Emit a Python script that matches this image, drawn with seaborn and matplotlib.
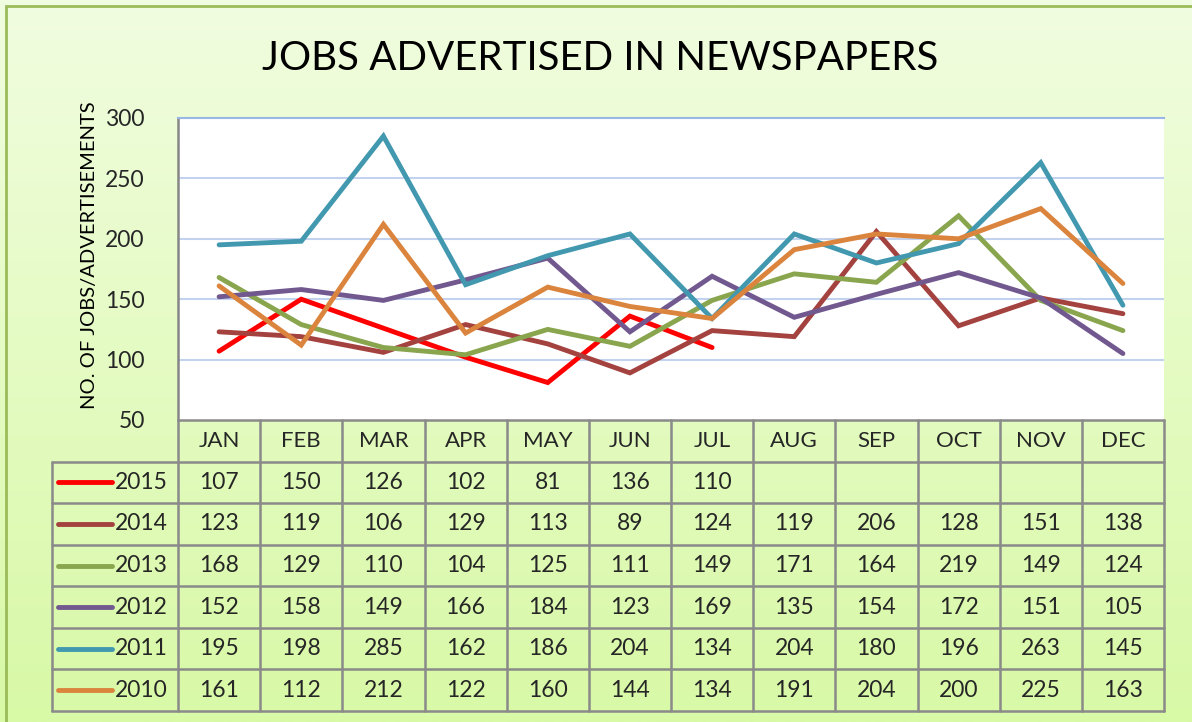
import numpy as np
import pandas as pd
import matplotlib
matplotlib.use("Agg")
import matplotlib.pyplot as plt
import seaborn as sns

months = ["JAN", "FEB", "MAR", "APR", "MAY", "JUN", "JUL", "AUG", "SEP", "OCT", "NOV", "DEC"]
years = ["2015", "2014", "2013", "2012", "2011", "2010"]
v2015 = [107, 150, 126, 102, 81, 136, 110, None, None, None, None, None]
v2014 = [123, 119, 106, 129, 113, 89, 124, 119, 206, 128, 151, 138]
v2013 = [168, 129, 110, 104, 125, 111, 149, 171, 164, 219, 149, 124]
v2012 = [152, 158, 149, 166, 184, 123, 169, 135, 154, 172, 151, 105]
v2011 = [195, 198, 285, 162, 186, 204, 134, 204, 180, 196, 263, 145]
v2010 = [161, 112, 212, 122, 160, 144, 134, 191, 204, 200, 225, 163]
series = [v2015, v2014, v2013, v2012, v2011, v2010]
colors = ["#ff0000", "#a3423f", "#89a54e", "#71588f", "#4198af", "#db843d"]
yticks = [50, 100, 150, 200, 250, 300]

sns.set_theme(style="white")
plt.rcParams["font.family"] = ["Lato", "DejaVu Sans"]

W, H = 1192, 722
fig = plt.figure(figsize=(W / 100, H / 100), dpi=100)

def px_axes(l, t, r, b, **kw):
    return fig.add_axes([l / W, 1 - b / H, (r - l) / W, (b - t) / H], **kw)

# background gradient
bg = px_axes(0, 0, W, H)
grad = np.linspace(0, 1, 256).reshape(-1, 1)
top = np.array([0xf1, 0xfd, 0xe0]) / 255
bot = np.array([0xd8, 0xf9, 0xa6]) / 255
img = top[None, None, :] * (1 - grad[:, :, None]) + bot[None, None, :] * grad[:, :, None]
bg.imshow(img, aspect="auto", extent=[0, 1, 0, 1])
bg.set_xlim(0, 1); bg.set_ylim(0, 1)
bg.axis("off")
bg.add_patch(plt.Rectangle((6 / W, -0.1), 1.1, 1.1 - 6 / H, fill=False, ec="#9bbb59", lw=2.0,
                           transform=bg.transAxes))

# title & y label
fig.text(600 / W, 1 - 58 / H, "JOBS ADVERTISED IN NEWSPAPERS", ha="center", va="center",
         fontsize=29, color="black")
fig.text(90 / W, 1 - 255 / H, "NO. OF JOBS/ADVERTISEMENTS", ha="center", va="center",
         rotation=90, fontsize=14.5, color="black")

# main plot
ax = px_axes(178, 118, 1164, 420)
ax.set_facecolor("white")
rows = []
for y, vals in zip(years, series):
    for m_i, v in enumerate(vals):
        rows.append({"year": y, "month": m_i, "value": v})
df = pd.DataFrame(rows).dropna()
sns.lineplot(data=df, x="month", y="value", hue="year", hue_order=years,
             palette=dict(zip(years, colors)), linewidth=3.5, sort=False,
             legend=False, ax=ax, solid_joinstyle="miter")
ax.set_xlim(-0.5, 11.5)
ax.set_ylim(50, 300)
ax.set_yticks(yticks)
ax.set_yticklabels([str(t) for t in yticks], fontsize=16.5)
ax.set_xticks([])
ax.set_xlabel(""); ax.set_ylabel("")
ax.tick_params(axis="y", length=0, pad=24)
for t in yticks[1:-1]:
    ax.axhline(t, color="#c3d3ef", lw=1.5, zorder=0)
for s in ["right", "bottom"]:
    ax.spines[s].set_visible(False)
ax.spines["top"].set_color("#9ab6e6"); ax.spines["top"].set_linewidth(1.5)
ax.spines["left"].set_color("#868686"); ax.spines["left"].set_linewidth(1.8)

# data table
tx = px_axes(52, 420, 1164, 711)
left = -0.5 - 126 / ((1164 - 178) / 12)
tx.set_xlim(left, 11.5)
tx.set_ylim(7, 0)
tx.axis("off")
gc = "#8a8a8a"
glw = 1.8
tx.plot([-0.5, 11.5], [0, 0], color=gc, lw=glw, clip_on=False)
for r in range(1, 8):
    tx.plot([left, 11.5], [r, r], color=gc, lw=glw, clip_on=False)
tx.plot([left, left], [1, 7], color=gc, lw=glw, clip_on=False)
for c in range(13):
    tx.plot([c - 0.5, c - 0.5], [0, 7], color=gc, lw=glw, clip_on=False)
for i, m in enumerate(months):
    tx.text(i, 0.5, m, ha="center", va="center", fontsize=16)
for r, (y, vals, col) in enumerate(zip(years, series, colors), start=1):
    tx.plot([left + 0.07, left + 0.73], [r + 0.5, r + 0.5], color=col, lw=3.5,
            solid_capstyle="round", clip_on=False)
    tx.text(left + 0.77, r + 0.5, y, ha="left", va="center", fontsize=16.5)
    for i, v in enumerate(vals):
        if v is not None:
            tx.text(i, r + 0.5, str(v), ha="center", va="center", fontsize=16.5)

fig.savefig("out.png", dpi=100)
